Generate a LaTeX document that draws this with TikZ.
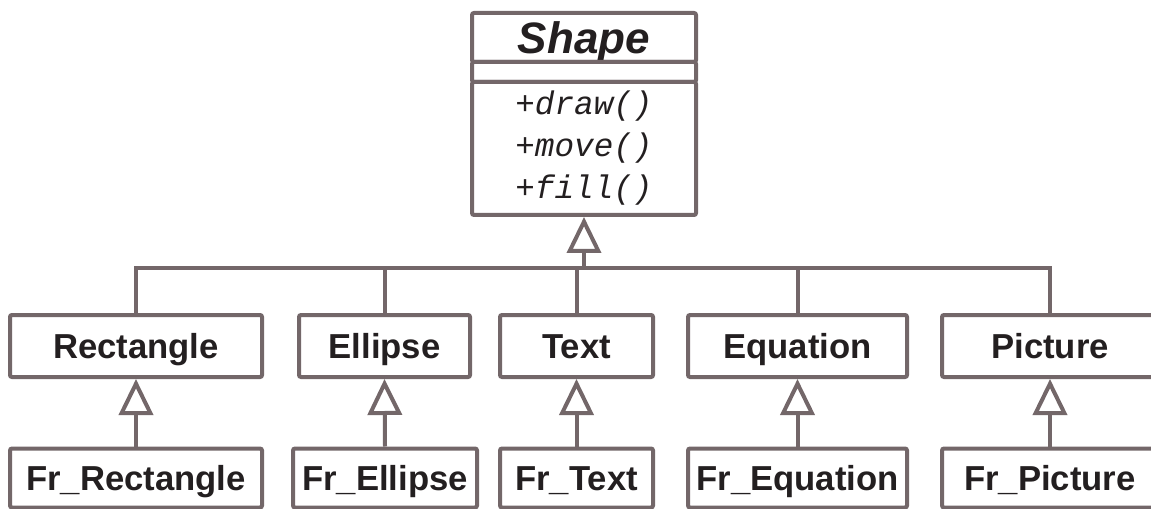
\documentclass[tikz,border=0pt]{standalone}
\usepackage{fontspec}
\setmainfont{Liberation Sans}
\setmonofont{Liberation Mono}
\usepackage{tikz}
\usetikzlibrary{arrows.meta}
\definecolor{uml_line}{RGB}{115, 103, 105}
\definecolor{uml_text}{RGB}{35, 31, 32}
\tikzstyle{cls}=[rectangle,rounded corners=1.5pt,draw=uml_line,fill=white,
  line width=3pt,inner sep=0pt,text=uml_text,text height=18.6pt,text depth=0pt,
  font=\fontsize{26}{28}\selectfont\bfseries]
\tikzstyle{lnk}=[draw=uml_line,line width=3pt]
\tikzstyle{inh}=[draw=uml_line,line width=3pt,
  -{Triangle[open,length=27pt,width=25.5pt]}]

\begin{document}
\begin{tikzpicture}[x=0.75pt,y=-0.75pt]
    \useasboundingbox (0,0) rectangle (1151,509);
    % base class
    \node [style=cls,minimum width=168pt,minimum height=36.75pt,text height=23.6pt,
      font=\fontsize{33}{36}\selectfont\bfseries\itshape] (name) at (584,37.5) {Shape};
    \node [style=cls,minimum width=168pt,minimum height=15pt,text height=0pt] (attr) at (584,72) {};
    \node [style=cls,minimum width=168pt,minimum height=99.75pt,align=center,
      text height=,text depth=,
      font=\fontsize{24.5}{31.5}\selectfont\ttfamily\itshape] (ops) at (584,148.5)
      {+draw()\\+move()\\+fill()};
    \coordinate (bus) at (584,268);
    % subclasses
    \node [style=cls,minimum width=189pt,minimum height=46.5pt] (rect) at (136,346) {Rectangle};
    \node [style=cls,minimum width=128.25pt,minimum height=46.5pt] (ell) at (384.5,346) {Ellipse};
    \node [style=cls,minimum width=114.75pt,minimum height=46.5pt] (txt) at (576.5,346) {Text};
    \node [style=cls,minimum width=164.25pt,minimum height=46.5pt] (eqn) at (797.5,346) {Equation};
    \node [style=cls,minimum width=162pt,minimum height=46.5pt] (pict) at (1050,346) {Picture};
    % frame classes
    \node [style=cls,minimum width=189pt,minimum height=44.25pt] (frrect) at (136,478) {Fr\_Rectangle};
    \node [style=cls,minimum width=138pt,minimum height=44.25pt] (frell) at (385,478) {Fr\_Ellipse};
    \node [style=cls,minimum width=114.75pt,minimum height=44.25pt] (frtxt) at (576.5,478) {Fr\_Text};
    \node [style=cls,minimum width=164.25pt,minimum height=44.25pt] (freqn) at (797.5,478) {Fr\_Equation};
    \node [style=cls,minimum width=162pt,minimum height=44.25pt] (frpict) at (1050,478) {Fr\_Picture};
    \draw [style=lnk] (rect.north) |- (bus) -| (pict.north);
    \draw [style=lnk] (ell.north) to (ell.north |- bus);
    \draw [style=lnk] (txt.north) to (txt.north |- bus);
    \draw [style=lnk] (eqn.north) to (eqn.north |- bus);
    \draw [style=inh] (bus) to (ops.south);
    \draw [style=inh] (frrect.north) to (rect.south);
    \draw [style=inh] (frell.north) to (ell.south);
    \draw [style=inh] (frtxt.north) to (txt.south);
    \draw [style=inh] (freqn.north) to (eqn.south);
    \draw [style=inh] (frpict.north) to (pict.south);
  \end{tikzpicture}
\end{document}
